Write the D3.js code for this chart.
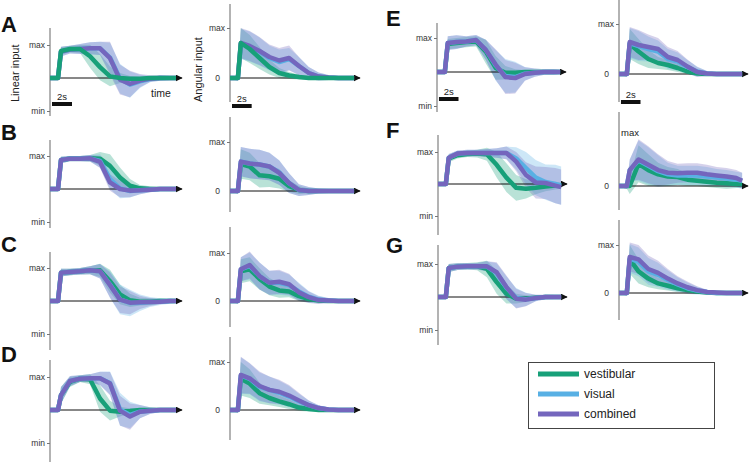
<!DOCTYPE html>
<html>
<head>
<meta charset="utf-8">
<script src="https://cdn.jsdelivr.net/npm/d3@7"></script>
<style>
  body { margin: 0; background: #fff; }
  svg { display: block; font-family: "Liberation Sans", Arial, sans-serif; }
</style>
</head>
<body>
<div id="chart"></div>
<script>
// time samples (s)
var T = [0, 0.8, 1.1, 2, 3, 4, 5, 6, 7, 8, 9, 10, 11, 12, 12.6]

var seriesNames = ["vestibular", "visual", "combined"]
var colors = ["#17a079", "#58b0e4", "#7466bd"]

// each panel: [vestibular, visual, combined] means and band half widths
var aLin = [
  [0, 0, .82, .88, .88, .66, .33, .05, 0, -.02, -.02, 0, 0, 0, 0],
  [0, 0, .8, .86, .88, .9, .9, .62, -.02, -.2, -.1, -.03, 0, 0, 0],
  [0, 0, .8, .86, .88, .9, .9, .6, -.05, -.18, -.08, -.02, 0, 0, 0]]
var aLinSd = [
  [.02, .05, .12, .1, .12, .35, .4, .3, .15, .08, .06, .05, .05, .04, .04],
  [.02, .05, .15, .12, .15, .18, .2, .45, .45, .4, .2, .1, .08, .06, .05],
  [.02, .05, .15, .12, .15, .18, .2, .5, .45, .4, .2, .1, .08, .06, .05]]
var aAng = [
  [0, 0, .7, .58, .4, .22, .1, .05, .02, 0, 0, 0, 0, 0, 0],
  [0, 0, .68, .63, .53, .4, .32, .38, .24, .1, .03, .01, 0, 0, 0],
  [0, 0, .7, .64, .54, .42, .35, .4, .24, .1, .03, .01, 0, 0, 0]]
var aAngSd = [
  [.02, .05, .3, .28, .22, .15, .1, .07, .05, .04, .03, .03, .02, .02, .02],
  [.02, .05, .3, .3, .28, .25, .25, .22, .18, .12, .08, .05, .04, .03, .03],
  [.02, .05, .3, .3, .28, .25, .25, .25, .18, .12, .08, .05, .04, .03, .03]]

var bLin = [
  [0, 0, .88, .92, .92, .93, .92, .7, .35, .1, .02, 0, 0, 0, 0],
  [0, 0, .88, .92, .92, .93, .85, .3, .02, -.06, -.04, -.02, 0, 0, 0],
  [0, 0, .88, .92, .92, .93, .82, .2, 0, -.05, -.04, -.02, 0, 0, 0]]
var bLinSd = [
  [.02, .05, .1, .08, .08, .1, .2, .35, .3, .2, .1, .08, .06, .05, .05],
  [.02, .05, .1, .08, .08, .1, .2, .3, .3, .2, .12, .08, .06, .05, .05],
  [.02, .05, .1, .08, .08, .1, .18, .25, .25, .2, .12, .08, .06, .05, .05]]
var bAng = [
  [0, 0, .55, .5, .32, .3, .25, .1, .02, 0, 0, 0, 0, 0, 0],
  [0, 0, .6, .56, .54, .5, .38, .16, .02, 0, 0, 0, 0, 0, 0],
  [0, 0, .6, .56, .54, .5, .37, .16, .02, 0, 0, 0, 0, 0, 0]]
var bAngSd = [
  [.02, .05, .3, .28, .25, .22, .2, .12, .08, .05, .04, .03, .02, .02, .02],
  [.02, .05, .3, .3, .3, .28, .25, .2, .12, .08, .05, .04, .03, .02, .02],
  [.02, .05, .3, .3, .3, .28, .25, .2, .12, .08, .05, .04, .03, .02, .02]]

var cLin = [
  [0, 0, .86, .88, .9, .93, .93, .6, .2, .02, -.02, -.02, 0, 0, 0],
  [0, 0, .86, .88, .9, .93, .9, .5, .05, -.06, -.05, -.03, -.02, 0, 0],
  [0, 0, .86, .88, .9, .93, .9, .48, .04, -.05, -.04, -.03, -.02, 0, 0]]
var cLinSd = [
  [.02, .05, .12, .1, .1, .12, .2, .35, .3, .2, .12, .1, .08, .06, .05],
  [.02, .05, .12, .1, .1, .12, .22, .4, .45, .4, .25, .15, .1, .08, .06],
  [.02, .05, .12, .1, .1, .12, .22, .38, .4, .35, .2, .12, .08, .06, .05]]
var cAng = [
  [0, 0, .62, .66, .46, .3, .22, .2, .1, .04, .01, 0, 0, 0, 0],
  [0, 0, .66, .73, .52, .38, .38, .33, .2, .09, .03, .01, 0, 0, 0],
  [0, 0, .66, .75, .52, .38, .4, .35, .18, .08, .02, .01, 0, 0, 0]]
var cAngSd = [
  [.02, .05, .25, .25, .22, .18, .15, .12, .1, .07, .04, .03, .02, .02, .02],
  [.02, .05, .25, .28, .28, .25, .25, .22, .18, .12, .08, .05, .04, .03, .03],
  [.02, .05, .25, .28, .28, .25, .25, .22, .18, .12, .08, .05, .04, .03, .03]]

var dLin = [
  [0, 0, .45, .85, .95, .93, .35, -.02, -.05, -.03, 0, 0, 0, 0, 0],
  [0, 0, .45, .88, .95, .96, .96, .82, .02, -.15, -.05, -.02, 0, 0, 0],
  [0, 0, .45, .88, .95, .96, .96, .8, -.02, -.2, -.05, -.02, 0, 0, 0]]
var dLinSd = [
  [.02, .05, .25, .15, .1, .15, .4, .3, .15, .08, .05, .04, .04, .03, .03],
  [.02, .05, .25, .15, .1, .12, .2, .35, .5, .4, .2, .1, .06, .05, .05],
  [.02, .05, .25, .15, .1, .12, .2, .35, .45, .4, .2, .1, .06, .05, .05]]
var dAng = [
  [0, 0, .65, .55, .35, .25, .18, .12, .05, .02, 0, 0, 0, 0, 0],
  [0, 0, .72, .65, .48, .42, .36, .28, .18, .1, .04, .01, 0, 0, 0],
  [0, 0, .73, .66, .5, .42, .38, .3, .2, .1, .04, .01, 0, 0, 0]]
var dAngSd = [
  [.02, .05, .35, .3, .22, .15, .12, .1, .07, .05, .03, .02, .02, .02, .02],
  [.02, .05, .38, .32, .3, .28, .25, .22, .16, .1, .06, .04, .03, .02, .02],
  [.02, .05, .38, .32, .3, .28, .25, .22, .16, .1, .06, .04, .03, .02, .02]]

var eLin = [
  [0, 0, .82, .85, .88, .9, .6, .12, -.02, -.02, 0, 0, 0, 0, 0],
  [0, 0, .85, .88, .9, .94, .65, .2, -.12, -.15, -.05, -.02, 0, 0, 0],
  [0, 0, .85, .88, .9, .94, .65, .22, -.15, -.18, -.06, -.02, 0, 0, 0]]
var eLinSd = [
  [.02, .05, .15, .15, .15, .15, .35, .35, .2, .1, .06, .05, .05, .05, .05],
  [.02, .05, .2, .2, .15, .15, .3, .45, .5, .45, .2, .12, .08, .08, .06],
  [.02, .05, .2, .2, .15, .15, .3, .45, .5, .45, .2, .12, .08, .08, .06]]
var eAng = [
  [0, 0, .6, .45, .3, .22, .18, .12, .05, .01, 0, 0, 0, 0, 0],
  [0, 0, .62, .56, .5, .45, .3, .25, .14, .05, .01, 0, 0, 0, 0],
  [0, 0, .64, .58, .54, .5, .34, .28, .15, .04, .01, 0, 0, 0, 0]]
var eAngSd = [
  [.02, .05, .3, .25, .18, .12, .1, .08, .05, .03, .02, .02, .02, .02, .02],
  [.02, .05, .3, .3, .25, .22, .2, .18, .14, .1, .05, .03, .02, .02, .02],
  [.02, .05, .3, .3, .25, .22, .2, .18, .14, .1, .05, .03, .02, .02, .02]]

var fLin = [
  [0, 0, .8, .9, .94, .95, .93, .6, .2, -.12, -.15, -.12, -.08, -.05, -.05],
  [0, 0, .82, .95, .97, .97, .97, .97, .97, .8, .5, .2, .06, 0, -.05],
  [0, 0, .82, .95, .97, .97, .97, .97, .97, .7, .28, .05, .03, -.05, -.1]]
var fLinSd = [
  [.02, .05, .12, .1, .1, .12, .2, .4, .45, .4, .3, .2, .15, .12, .1],
  [.02, .05, .12, .1, .1, .1, .12, .15, .2, .35, .5, .55, .55, .6, .6],
  [.02, .05, .12, .1, .1, .1, .12, .15, .2, .3, .4, .5, .5, .55, .55]]
var fAng = [
  [0, 0, 0, .42, .3, .22, .18, .17, .12, .1, .08, .06, .05, .04, .04],
  [0, 0, .3, .48, .38, .28, .22, .2, .2, .2, .18, .16, .14, .12, .1],
  [0, 0, .3, .5, .4, .3, .25, .24, .25, .25, .22, .2, .18, .15, .1]]
var fAngSd = [
  [.02, .05, .15, .35, .3, .22, .18, .15, .12, .1, .1, .1, .1, .08, .08],
  [.02, .05, .2, .38, .35, .3, .22, .18, .18, .18, .18, .16, .16, .15, .15],
  [.02, .05, .2, .38, .35, .3, .22, .18, .18, .18, .18, .16, .16, .15, .15]]

var gLin = [
  [0, 0, .88, .92, .93, .93, .85, .45, .1, -.05, -.05, -.02, 0, 0, 0],
  [0, 0, .88, .92, .93, .93, .93, .72, .28, -.03, -.07, -.03, 0, 0, 0],
  [0, 0, .88, .92, .93, .93, .93, .75, .3, -.05, -.08, -.03, 0, 0, 0]]
var gLinSd = [
  [.02, .05, .12, .1, .1, .12, .25, .35, .3, .15, .1, .07, .05, .05, .05],
  [.02, .05, .12, .1, .1, .1, .15, .3, .35, .3, .2, .1, .07, .06, .05],
  [.02, .05, .12, .1, .1, .1, .15, .3, .35, .3, .2, .1, .07, .06, .05]]
var gAng = [
  [0, 0, .7, .45, .3, .2, .15, .1, .06, .03, .01, 0, 0, 0, 0],
  [0, 0, .72, .65, .45, .38, .27, .18, .1, .05, .02, 0, 0, 0, 0],
  [0, 0, .75, .7, .5, .42, .3, .2, .12, .06, .02, .01, 0, 0, 0]]
var gAngSd = [
  [.02, .05, .3, .25, .18, .12, .1, .08, .05, .04, .03, .02, .02, .02, .02],
  [.02, .05, .3, .3, .28, .25, .2, .15, .12, .08, .05, .03, .02, .02, .02],
  [.02, .05, .3, .3, .28, .25, .2, .15, .12, .08, .05, .03, .02, .02, .02]]

var W = 751, H = 462

var svg = d3.select("#chart").append("svg")
  .attr("width", W)
  .attr("height", H)

svg.append("defs").append("marker")
  .attr("id", "arrow")
  .attr("viewBox", "0 0 10 10")
  .attr("refX", 9).attr("refY", 5)
  .attr("markerWidth", 7).attr("markerHeight", 7)
  .attr("markerUnits", "userSpaceOnUse")
  .attr("orient", "auto")
  .append("path")
  .attr("d", "M0,0L10,5L0,10z")
  .attr("fill", "#111")

// layout of the 14 small panels
var panels = [
  {letter: "A", lx: 1, ly: 32, lin: true, mean: aLin, sd: aLinSd, x0: 50, x1: 182, zero: 78, max: 45, top: 28, bottom: 116, label: "Linear input", bar: true, time: true, greenTop: true},
  {lin: false, mean: aAng, sd: aAngSd, x0: 230, x1: 360, zero: 78, max: 28, top: 4, bottom: 102, label: "Angular input", bar: true, greenTop: true},
  {letter: "B", lx: 1, ly: 140, lin: true, mean: bLin, sd: bLinSd, x0: 50, x1: 182, zero: 189, max: 156, top: 140, bottom: 228},
  {lin: false, mean: bAng, sd: bAngSd, x0: 230, x1: 360, zero: 191, max: 142, top: 117, bottom: 212},
  {letter: "C", lx: 1, ly: 252, lin: true, mean: cLin, sd: cLinSd, x0: 50, x1: 182, zero: 301, max: 268, top: 252, bottom: 350},
  {lin: false, mean: cAng, sd: cAngSd, x0: 230, x1: 360, zero: 301, max: 253, top: 227, bottom: 327},
  {letter: "D", lx: 1, ly: 362, lin: true, mean: dLin, sd: dLinSd, x0: 50, x1: 182, zero: 410, max: 377, top: 360, bottom: 462},
  {lin: false, mean: dAng, sd: dAngSd, x0: 230, x1: 360, zero: 410, max: 362, top: 337, bottom: 440},
  {letter: "E", lx: 386, ly: 26, lin: true, mean: eLin, sd: eLinSd, x0: 437, x1: 566, zero: 72, max: 38, top: 23, bottom: 112, bar: true},
  {lin: false, mean: eAng, sd: eAngSd, x0: 619, x1: 748, zero: 74, max: 24, top: 0, bottom: 102, bar: true},
  {letter: "F", lx: 386, ly: 138, lin: true, mean: fLin, sd: fLinSd, x0: 438, x1: 567, zero: 184, max: 152, top: 135, bottom: 235},
  {lin: false, mean: fAng, sd: fAngSd, x0: 619, x1: 748, zero: 186, max: 133, top: 112, bottom: 210, maxRight: true},
  {letter: "G", lx: 386, ly: 253, lin: true, mean: gLin, sd: gLinSd, x0: 438, x1: 567, zero: 297, max: 264, top: 245, bottom: 345},
  {lin: false, mean: gAng, sd: gAngSd, x0: 619, x1: 748, zero: 293, max: 245, top: 220, bottom: 320}
]

panels.forEach(function(p) {
  var x = d3.scaleLinear().domain([0, 13.2]).range([p.x0, p.x1])
  var y = p.lin
    ? d3.scaleLinear().domain([-1, 1]).range([2 * p.zero - p.max, p.max])
    : d3.scaleLinear().domain([0, 1]).range([p.zero, p.max])

  var g = svg.append("g")

  if (p.letter) {
    g.append("text")
      .attr("x", p.lx).attr("y", p.ly)
      .attr("font-size", 22).attr("font-weight", "bold")
      .attr("fill", "#111")
      .text(p.letter)
  }

  // vertical axis line
  g.append("line")
    .attr("x1", p.x0).attr("x2", p.x0)
    .attr("y1", p.top).attr("y2", p.bottom)
    .attr("stroke", "#9a9a9a").attr("stroke-width", 1.5)

  var ticks = p.lin ? [1, -1] : (p.maxRight ? [0] : [1, 0])
  var yAxis = d3.axisLeft(y)
    .tickValues(ticks)
    .tickSize(3)
    .tickPadding(2)
    .tickFormat(function(d) { return d === 1 ? "max" : d === -1 ? "min" : "0" })
  var ax = g.append("g")
    .attr("transform", "translate(" + p.x0 + ",0)")
    .call(yAxis)
  ax.select(".domain").remove()
  ax.selectAll("line").attr("stroke", "#777")
  ax.selectAll(".tick").filter(function(d) { return d === 0 }).select("line").remove()
  ax.selectAll("text")
    .attr("font-size", 8.5)
    .attr("fill", "#333")
    .attr("font-family", "'Liberation Sans', Arial, sans-serif")
  ax.selectAll(".tick").filter(function(d) { return d === 0 }).select("text").attr("x", -10)

  if (p.maxRight) {
    g.append("text")
      .attr("x", p.x0 + 2).attr("y", y(1) + 3)
      .attr("font-size", 9.5).attr("fill", "#222")
      .text("max")
  }

  var area = d3.area()
    .x(function(d, i) { return x(T[i]) })
    .y0(function(d, i) { return y(d[0] - d[1]) })
    .y1(function(d, i) { return y(d[0] + d[1]) })
  var line = d3.line()
    .x(function(d, i) { return x(T[i]) })
    .y(function(d) { return y(d) })

  ;[0, 1, 2].forEach(function(k) {
    g.append("path")
      .datum(d3.zip(p.mean[k], p.sd[k]))
      .attr("d", area)
      .attr("fill", colors[k])
      .attr("fill-opacity", 0.3)
  })

  // zero line with arrow
  g.append("line")
    .attr("x1", p.x0).attr("x2", p.x1)
    .attr("y1", y(0)).attr("y2", y(0))
    .attr("stroke", "#111").attr("stroke-width", 1)
    .attr("marker-end", "url(#arrow)")

  var order = p.greenTop ? [1, 2, 0] : [0, 1, 2]
  order.forEach(function(k) {
    g.append("path")
      .datum(p.mean[k])
      .attr("d", line)
      .attr("fill", "none")
      .attr("stroke", colors[k])
      .attr("stroke-width", 4.5)
      .attr("stroke-linejoin", "round")
  })

  if (p.label) {
    var lx = p.lin ? 19 : 202
    g.append("text")
      .attr("transform", "translate(" + lx + ",102) rotate(-90)")
      .attr("font-size", 11).attr("fill", "#222")
      .text(p.label)
  }

  if (p.bar) {
    var by = p.lin ? 2 * p.zero - p.max - 7 : p.zero + 28
    g.append("line")
      .attr("x1", x(0.2)).attr("x2", x(2.2))
      .attr("y1", by).attr("y2", by)
      .attr("stroke", "#111").attr("stroke-width", 4)
    g.append("text")
      .attr("x", (x(0.2) + x(2.2)) / 2).attr("y", by - 4)
      .attr("text-anchor", "middle")
      .attr("font-size", 9.5).attr("fill", "#222")
      .text("2s")
  }

  if (p.time) {
    g.append("text")
      .attr("x", 151).attr("y", 97)
      .attr("font-size", 10.5).attr("fill", "#222")
      .text("time")
  }
})

// legend
var legend = svg.append("g")
legend.append("rect")
  .attr("x", 528.5).attr("y", 362.5)
  .attr("width", 186).attr("height", 66)
  .attr("fill", "#fff").attr("stroke", "#444").attr("stroke-width", 1)

seriesNames.forEach(function(name, k) {
  var ly = 374 + k * 20
  legend.append("line")
    .attr("x1", 538).attr("x2", 579)
    .attr("y1", ly).attr("y2", ly)
    .attr("stroke", colors[k]).attr("stroke-width", 5)
  legend.append("text")
    .attr("x", 584).attr("y", ly + 4)
    .attr("font-size", 12).attr("fill", "#222")
    .text(name)
})
</script>
</body>
</html>
